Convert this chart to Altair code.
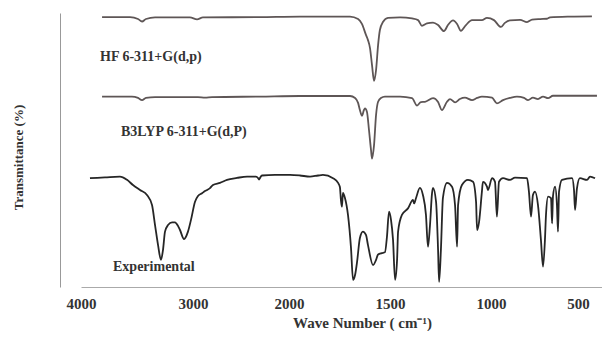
import altair as alt
import pandas as pd

# ---- data ----
hf_wn = [3812, 3562, 3491, 3455, 3420, 3339, 3027, 2958, 2896, 2302, 1946, 1698, 1658, 1639, 1619, 1609,
         1599, 1589, 1579, 1569, 1559, 1550, 1535, 1510, 1450, 1391, 1361, 1342, 1317, 1287, 1262, 1233,
         1213, 1188, 1168, 1149, 1124, 1094, 1045, 1020, 983, 943, 920, 891, 833, 793, 764, 718, 678, 661,
         546, 420]
hf_t = [98.5, 98.5, 97.8, 96.9, 97.8, 98.4, 98.4, 97.7, 98.4, 98.5, 98.7, 98.7, 97.8, 96.0, 92.0, 90.1,
        87.2, 81.0, 75.2, 79.2, 88.3, 93.8, 96.7, 98.2, 98.4, 98.0, 97.4, 95.3, 96.2, 96.5, 95.6, 93.4,
        95.6, 97.3, 96.0, 93.5, 95.6, 97.4, 97.4, 98.2, 97.4, 94.9, 96.4, 97.3, 97.5, 96.7, 97.6, 97.8, 97.9, 98.4,
        98.7, 98.8]

b3_wn = [3812, 3545, 3491, 3455, 3420, 3339, 2948, 2875, 2802, 2302, 1946, 1698, 1673, 1658, 1649, 1639,
         1629, 1624, 1614, 1604, 1594, 1589, 1579, 1569, 1559, 1545, 1525, 1450, 1391, 1366, 1347, 1327,
         1287, 1262, 1243, 1218, 1203, 1178, 1154, 1129, 1094, 1069, 1045, 994, 966, 931, 891, 851, 810,
         787, 759, 730, 701, 672, 644, 391]
b3_t = [69.5, 69.5, 69.0, 68.2, 69.0, 69.3, 69.3, 69.1, 69.3, 69.5, 69.7, 69.7, 69.0, 67.2, 64.6, 62.5,
        64.6, 65.2, 63.9, 57.3, 50.0, 46.9, 51.8, 62.8, 67.6, 69.0, 69.5, 69.5, 68.9, 66.2, 67.5, 67.6,
        68.9, 67.5, 64.6, 67.6, 68.6, 67.4, 68.6, 69.1, 68.2, 69.0, 69.5, 69.1, 67.0, 68.2, 69.0, 69.5, 69.0,
        68.2, 69.1, 68.6, 69.5, 68.9, 69.8, 69.8]

exp_wn = [3920, 3786, 3652, 3589, 3536, 3473, 3411, 3366, 3339, 3312, 3286, 3268, 3250, 3223, 3187, 3161,
          3134, 3116, 3080, 3045, 3018, 2979, 2948, 2906, 2875, 2854, 2823, 2792, 2719, 2646, 2542, 2437,
          2344, 2323, 2312, 2302, 2281, 2146, 1995, 1946, 1896, 1856, 1832, 1782, 1757, 1748, 1743, 1738,
          1733, 1723, 1708, 1693, 1683, 1673, 1663, 1649, 1634, 1619, 1609, 1584, 1569, 1559, 1540, 1525,
          1515, 1505, 1495, 1485, 1475, 1465, 1460, 1441, 1411, 1386, 1381, 1371, 1352, 1337, 1322, 1312,
          1302, 1292, 1287, 1272, 1262, 1257, 1248, 1238, 1218, 1193, 1178, 1168, 1163, 1144, 1114, 1089,
          1074, 1069, 1059, 1045, 1040, 1020, 1015, 994, 977, 966, 954, 931, 891, 862, 793, 782, 770, 759,
          747, 730, 713, 701, 690, 684, 672, 655, 649, 644, 632, 621, 615, 609, 592, 534, 523, 517, 506,
          489, 448, 431, 402]
exp_t = [39.7, 40.0, 40.3, 39.1, 37.2, 35.4, 33.6, 29.9, 22.6, 15.3, 9.9, 13.5, 20.2, 22.6, 23.6, 23.6,
         22.3, 20.8, 17.5, 20.2, 24.5, 31.1, 33.2, 34.2, 35.0, 35.4, 36.1, 37.2, 38.0, 39.1, 39.8, 40.3,
         40.3, 39.8, 39.2, 39.8, 40.7, 40.9, 40.9, 40.7, 40.3, 40.7, 40.9, 39.7, 38.0, 36.5, 31.8, 29.3,
         34.3, 32.5, 26.3, 14.2, 2.6, 4.4, 9.2, 17.9, 20.2, 19.0, 15.3, 8.0, 9.9, 11.9, 12.4, 12.7,
         18.4, 27.5, 24.5, 17.2, 2.6, 9.9, 20.2, 26.3, 28.7, 31.8, 30.5, 32.5, 36.2, 33.6, 26.3, 14.7,
         22.6, 34.2, 36.2, 31.1, 13.5, 1.9, 13.5, 32.5, 38.0, 36.6, 29.9, 14.7, 29.9, 37.2, 39.1, 38.4,
         31.1, 20.8, 23.8, 34.8, 38.4, 36.6, 35.4, 39.7, 38.4, 25.7, 38.4, 39.7, 39.1, 39.9, 39.7, 34.8, 25.7, 33.6,
         34.8, 29.9, 17.2, 7.4, 17.2, 26.3, 33.0, 32.4, 23.2, 33.0, 36.6, 29.9, 20.2, 34.8, 39.1, 39.7, 35.4, 28.1, 36.0,
         39.7, 39.1, 40.3, 39.7]

label_text = ["HF 6-311+G(d,p)", "B3LYP 6-311+G(d,P)", "Experimental"]
label_wn = [3830, 3643, 3714]
label_t = [83.9, 56.6, 7.3]

tick_values = [4000, 3000, 2000, 1500, 1000, 500]

rows = []
for name, wn, t in [("HF", hf_wn, hf_t), ("B3LYP", b3_wn, b3_t), ("Experimental", exp_wn, exp_t)]:
    for w, v in zip(wn, t):
        rows.append({"series": name, "wn": w, "t": v})
df = pd.DataFrame(rows)
lab = pd.DataFrame({"text": label_text, "wn": label_wn, "t": label_t})

FONT = "Liberation Serif"

xscale = alt.Scale(domain=[4000, 3000, 2000, 1500, 1000, 500, 362],
                   range=[21, 133, 229, 330, 431, 518, 542], nice=False, zero=False)
yscale = alt.Scale(domain=[0, 100], nice=False, zero=False)

lines = alt.Chart(df).mark_line(strokeJoin="round", interpolate="monotone").encode(
    x=alt.X("wn:Q", scale=xscale,
            axis=alt.Axis(values=tick_values, format="d", title="Wave Number ( cm⁻¹)", grid=False,
                          ticks=False, tickSize=0, labelPadding=9, labelFont=FONT, labelFontSize=15,
                          labelFontWeight="bold", labelColor="#333", domainColor="#aaaaaa",
                          titleFont=FONT, titleFontSize=15, titleFontWeight="bold", titleColor="#333",
                          titleX=302, titleY=35, titleBaseline="middle", labelFlush=False)),
    y=alt.Y("t:Q", scale=yscale,
            axis=alt.Axis(labels=False, ticks=False, grid=False, title="Transmittance (%)",
                          domainColor="#999999", titleFont=FONT, titleFontSize=13,
                          titleFontWeight="bold", titleColor="#333", titleX=-42, titleY=144,
                          titleBaseline="middle")),
    color=alt.Color("series:N", legend=None,
                    scale=alt.Scale(domain=["HF", "B3LYP", "Experimental"],
                                    range=["#5e5656", "#5e5656", "#262626"])),
    strokeWidth=alt.StrokeWidth("series:N", legend=None,
                                scale=alt.Scale(domain=["HF", "B3LYP", "Experimental"],
                                                range=[1.8, 1.8, 2.4])),
    detail="series:N",
)

texts = alt.Chart(lab).mark_text(align="left", baseline="middle", font=FONT, fontSize=14,
                                 fontWeight="bold", color="#333").encode(
    x=alt.X("wn:Q", scale=xscale),
    y=alt.Y("t:Q", scale=yscale),
    text="text:N",
)

chart = alt.layer(lines, texts).properties(
    width=542, height=274,
    autosize=alt.AutoSizeParams(type="none"),
    padding={"left": 52, "top": 5, "right": 0, "bottom": 44},
    background="white",
).configure_view(stroke=None)

chart.save("out.html", embed_options={"renderer": "svg", "actions": False})
